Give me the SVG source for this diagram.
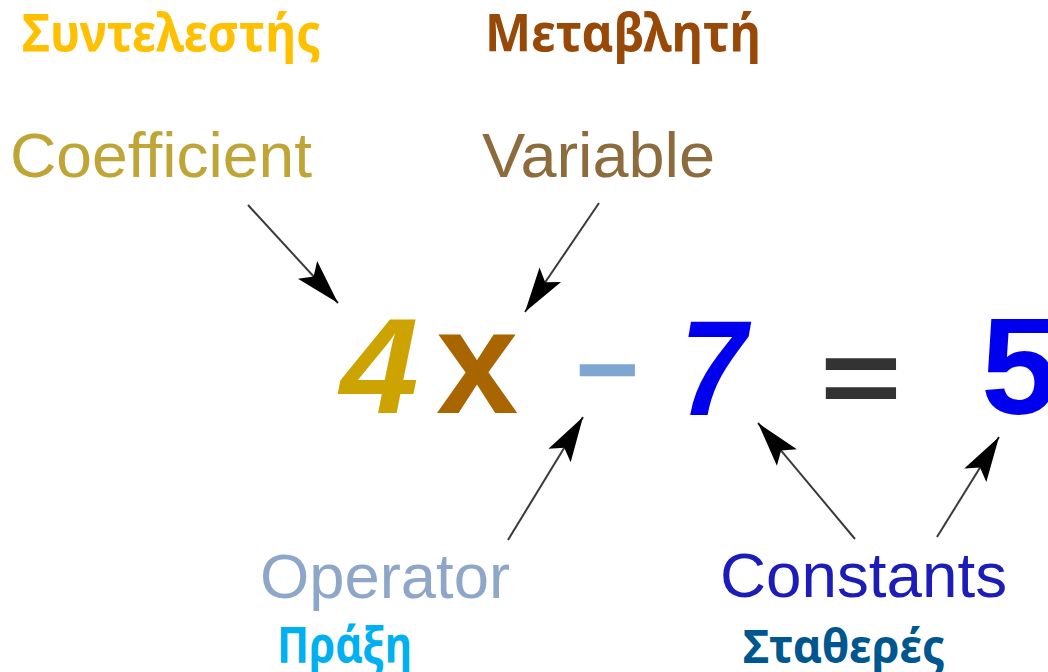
<svg xmlns="http://www.w3.org/2000/svg" width="1048" height="672" viewBox="0 0 1048 672">
<style>
.gr{font-family:"Noto Sans","Open Sans","DejaVu Sans",sans-serif;font-weight:bold}
.en{font-family:"Liberation Sans",Arial,sans-serif;font-size:63px}
.eq{font-family:"Liberation Sans",Arial,sans-serif;font-weight:bold}
.conn line{stroke:#3a3a3a;stroke-width:2;marker-end:url(#ah)}
</style>
<defs>
<marker id="ah" markerUnits="userSpaceOnUse" markerWidth="50" markerHeight="30" refX="45" refY="15" orient="auto" overflow="visible">
<path d="M45,15 L0,2 L9,15 L0,28 Z" fill="#000"/>
</marker>
</defs>
<rect width="1048" height="672" fill="#fff"/>
<g id="coefficient">
<text class="gr" x="22" y="51" font-size="52" fill="#FFC000" textLength="299" lengthAdjust="spacingAndGlyphs">Συντελεστής</text>
<text class="en" x="10" y="177" fill="#BFA436" textLength="302" lengthAdjust="spacingAndGlyphs">Coefficient</text>
</g>
<g id="variable">
<text class="gr" x="485" y="51" font-size="52" fill="#984807" textLength="276" lengthAdjust="spacingAndGlyphs">Μεταβλητή</text>
<text class="en" x="482" y="177" fill="#8C6C3C" textLength="233" lengthAdjust="spacingAndGlyphs">Variable</text>
</g>
<g id="operator">
<text class="en" x="260" y="598" fill="#8EA7C8" textLength="250" lengthAdjust="spacingAndGlyphs">Operator</text>
<text class="gr" x="277" y="663" font-size="50" fill="#00B0F0" textLength="135" lengthAdjust="spacingAndGlyphs">Πράξη</text>
</g>
<g id="constants">
<text class="en" x="720" y="597" fill="#1C1CB8" textLength="287" lengthAdjust="spacingAndGlyphs">Constants</text>
<text class="gr" x="743" y="663" font-size="47" fill="#00578F" textLength="202" lengthAdjust="spacingAndGlyphs">Σταθερές</text>
</g>
<g id="equation">
<text id="t4" class="eq" transform="translate(340,413) scale(1.04,1)" font-size="136" font-style="italic" fill="#CCA300">4</text>
<text id="tx" class="eq" x="436" y="413" font-size="148" fill="#A86500">x</text>
<text id="tminus" class="eq" x="575" y="407" font-size="110" fill="#7EA6D2">−</text>
<text id="t7" class="eq" transform="translate(680,415) scale(0.88,1)" font-size="136" font-style="italic" fill="#0000EE">7</text>
<text id="teq" class="eq" transform="translate(820,414) scale(1.12,0.86)" font-size="125" fill="#333333">=</text>
<text id="t5" class="eq" x="981" y="414" font-size="138" fill="#0000EE">5</text>
</g>
<g id="connectors" class="conn">
<line x1="248" y1="205" x2="338" y2="303"/>
<line x1="599" y1="203" x2="525" y2="312"/>
<line x1="508" y1="540" x2="583" y2="417"/>
<line x1="855" y1="539" x2="758" y2="423"/>
<line x1="937" y1="537" x2="999" y2="437"/>
</g>
</svg>
